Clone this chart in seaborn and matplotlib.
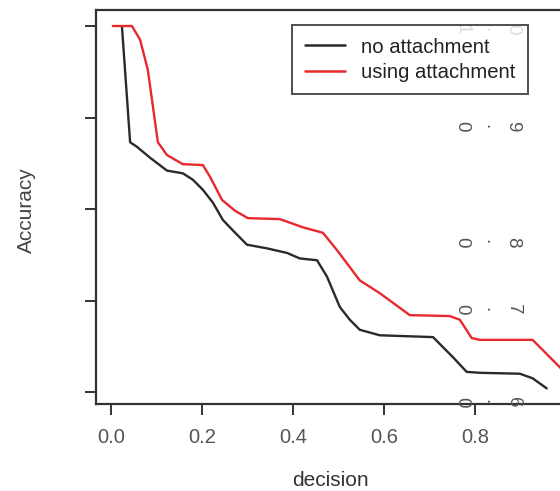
import numpy as np
import pandas as pd
import matplotlib
matplotlib.use("Agg")
import matplotlib.pyplot as plt
import seaborn as sns

# ---- data ----
x_no = [0.024, 0.042, 0.057, 0.086, 0.123, 0.158, 0.180, 0.202, 0.224, 0.246,
        0.273, 0.299, 0.343, 0.387, 0.415, 0.453, 0.475, 0.503, 0.525, 0.547,
        0.591, 0.708, 0.752, 0.782, 0.811, 0.899, 0.927, 0.958]
y_no = [1.000, 0.873, 0.868, 0.856, 0.842, 0.839, 0.832, 0.821, 0.807, 0.788,
        0.774, 0.761, 0.757, 0.752, 0.746, 0.744, 0.726, 0.693, 0.679, 0.668,
        0.662, 0.660, 0.638, 0.622, 0.621, 0.620, 0.615, 0.604]

x_att = [0.004, 0.046, 0.064, 0.081, 0.103, 0.123, 0.158, 0.202, 0.218, 0.244,
         0.273, 0.301, 0.371, 0.422, 0.466, 0.497, 0.547, 0.591, 0.657, 0.745,
         0.767, 0.793, 0.811, 0.927, 0.987, 1.009]
y_att = [1.000, 1.000, 0.985, 0.952, 0.873, 0.859, 0.849, 0.848, 0.835, 0.810,
         0.798, 0.790, 0.789, 0.780, 0.774, 0.755, 0.722, 0.708, 0.684, 0.683,
         0.679, 0.659, 0.657, 0.657, 0.627, 0.615]

series_names = ["no attachment", "using attachment"]
x_ticks = [0.0, 0.2, 0.4, 0.6, 0.8]
x_tick_labels = ["0.0", "0.2", "0.4", "0.6", "0.8"]
y_ticks = [0.6, 0.7, 0.8, 0.9, 1.0]
y_tick_labels = ["0.6", "0.7", "0.8", "0.9", "1.0"]

df = pd.concat([
    pd.DataFrame({"decision": x_no, "Accuracy": y_no, "series": series_names[0]}),
    pd.DataFrame({"decision": x_att, "Accuracy": y_att, "series": series_names[1]}),
], ignore_index=True)

sns.set_theme(style="white")
plt.rcParams["font.family"] = ["Liberation Sans", "DejaVu Sans"]

W, H = 560, 491
fig = plt.figure(figsize=(W / 100, H / 100), dpi=100)
ax_left, ax_right, ax_top, ax_bot = 96, 584, 10, 404
ax = fig.add_axes([ax_left / W, 1 - ax_bot / H, (ax_right - ax_left) / W, (ax_bot - ax_top) / H])

sns.lineplot(data=df, x="decision", y="Accuracy", hue="series", sort=False,
             palette={"no attachment": "#2a2a2a", "using attachment": "#e8282c"},
             linewidth=1.7, ax=ax, estimator=None)

ax.set_xlim(-0.033, 1.04)
ax.set_ylim(0.5869, 1.0175)

for s in ["left", "bottom", "top", "right"]:
    ax.spines[s].set_color("#333333")
    ax.spines[s].set_linewidth(1.6)

ax.set_xticks(x_ticks)
ax.set_xticklabels(x_tick_labels, fontsize=14.5, color="#555555")
ax.set_yticks(y_ticks)
ax.set_yticklabels([])
ax.tick_params(axis="both", direction="out", length=8, width=1.4, color="#333333",
               bottom=True, left=True, pad=9)

# y tick labels appear scattered, each character rotated, inside the plot
label_y = [0.589, 0.690, 0.764, 0.890, 0.996]
char_x = [0.771, 0.833, 0.884]
for lab, yy in zip(y_tick_labels, label_y):
    for ch, xx in zip(lab, char_x):
        ax.text(xx, yy, ch, rotation=-90, fontsize=13.5, color="#555555",
                ha="center", va="center", zorder=5)

ax.set_xlabel("decision", fontsize=15, color="#333333")
ax.set_ylabel("Accuracy", fontsize=15, color="#444444")
ax.xaxis.set_label_coords((330 - ax_left) / (ax_right - ax_left), -(480 - ax_bot) / (ax_bot - ax_top))
ax.yaxis.set_label_coords(-(ax_left - 26) / (ax_right - ax_left), (ax_bot - 210) / (ax_bot - ax_top))
ax.xaxis.label.set_va("center")
ax.yaxis.label.set_va("center")

leg = ax.legend(title=None, loc="upper left", bbox_to_anchor=(292 / W, 1 - 25 / H),
                bbox_transform=fig.transFigure, borderaxespad=0, fontsize=14.6,
                frameon=True, fancybox=False, edgecolor="#222222",
                handlelength=2.0, handletextpad=0.8, labelspacing=0.3, borderpad=0.62)
leg.get_frame().set_linewidth(1.4)
leg.get_frame().set_facecolor((1, 1, 1, 0))
for t in leg.get_texts():
    t.set_color("#222222")
for l in leg.get_lines():
    l.set_linewidth(1.8)

fig.savefig("out.png", dpi=100)
